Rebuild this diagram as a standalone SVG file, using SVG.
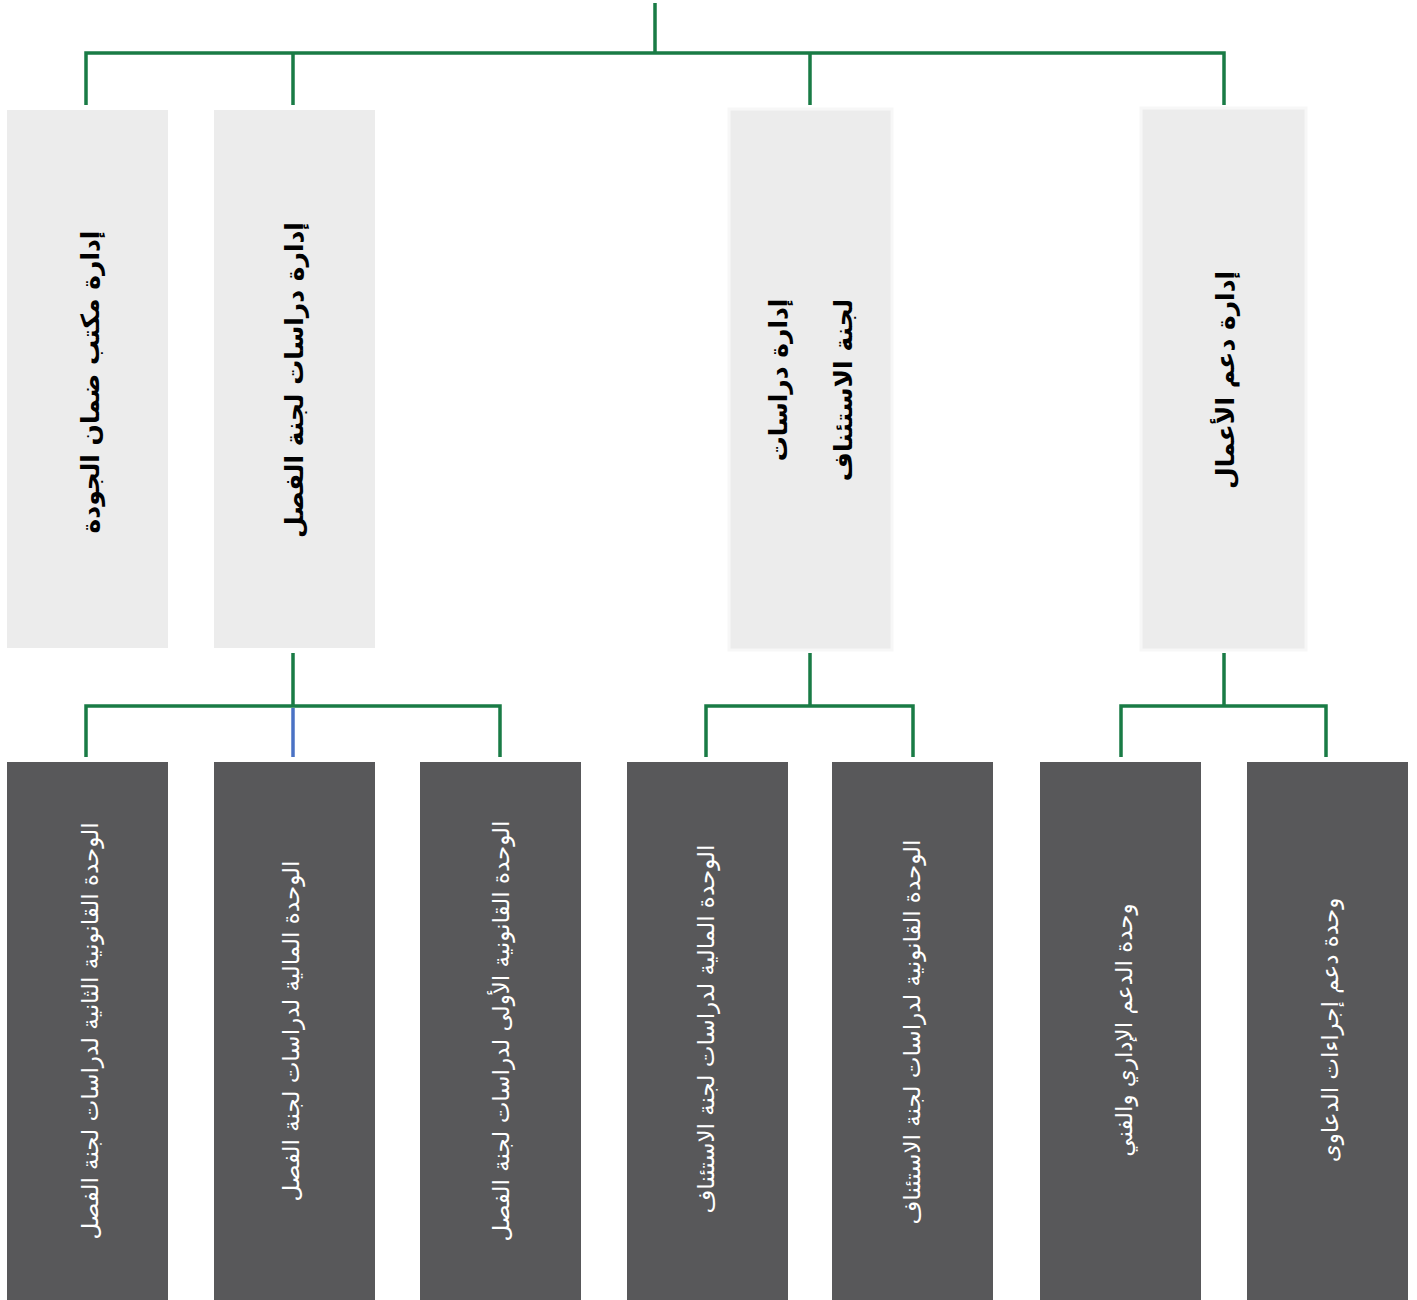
<svg xmlns="http://www.w3.org/2000/svg" width="1417" height="1300" viewBox="0 0 1417 1300">
<style>
.top{fill:#ececec}
.topb{fill:#ececec;stroke:#f7f7f7;stroke-width:3}
.bot{fill:#58585a}
.tt{font-family:"DejaVu Sans",sans-serif;font-weight:bold;font-size:25px;fill:#000;text-anchor:middle;dominant-baseline:central}
.bt{font-family:"DejaVu Sans",sans-serif;font-size:23px;fill:#fff;text-anchor:middle;dominant-baseline:central}
.ln{stroke:#197b45;stroke-width:3.5;fill:none}
.bl{stroke:#4a72c4;stroke-width:3.5;fill:none}
</style>
<rect width="1417" height="1300" fill="#fff"/>
<g id="connectors">
<path class="ln" d="M655 3V53M86 105V53H1224V105M293 53V105M810 53V105"/>
<path class="ln" d="M293 653V706M86 757V706H500V757"/>
<path class="bl" d="M293 708V757"/>
<path class="ln" d="M810 653V706M706 757V706H913V757"/>
<path class="ln" d="M1224 653V706M1121 757V706H1326V757"/>
</g>
<g id="n1"><rect class="top" x="7" y="110" width="161" height="538"/><text class="tt" direction="rtl" transform="translate(90,382) rotate(-90)">إدارة مكتب ضمان الجودة</text></g>
<g id="n2"><rect class="top" x="214" y="110" width="161" height="538"/><text class="tt" direction="rtl" transform="translate(294,380) rotate(-90)">إدارة دراسات لجنة الفصل</text></g>
<g id="n3"><rect class="topb" x="729" y="109" width="163" height="541"/><text class="tt" direction="rtl" transform="translate(778,380) rotate(-90)">إدارة دراسات</text><text class="tt" direction="rtl" transform="translate(843,390) rotate(-90)">لجنة الاستئناف</text></g>
<g id="n4"><rect class="topb" x="1141" y="108" width="165" height="542"/><text class="tt" direction="rtl" transform="translate(1225,380) rotate(-90)">إدارة دعم الأعمال</text></g>
<g id="b1"><rect class="bot" x="7" y="762" width="161" height="538"/><text class="bt" direction="rtl" transform="translate(90,1031) rotate(-90)">الوحدة القانونية الثانية لدراسات لجنة الفصل</text></g>
<g id="b2"><rect class="bot" x="214" y="762" width="161" height="538"/><text class="bt" direction="rtl" transform="translate(291,1031) rotate(-90)">الوحدة المالية لدراسات لجنة الفصل</text></g>
<g id="b3"><rect class="bot" x="420" y="762" width="161" height="538"/><text class="bt" direction="rtl" transform="translate(501,1031) rotate(-90)">الوحدة القانونية الأولى لدراسات لجنة الفصل</text></g>
<g id="b4"><rect class="bot" x="627" y="762" width="161" height="538"/><text class="bt" direction="rtl" transform="translate(706,1029) rotate(-90)">الوحدة المالية لدراسات لجنة الاستئناف</text></g>
<g id="b5"><rect class="bot" x="832" y="762" width="161" height="538"/><text class="bt" direction="rtl" transform="translate(912,1032) rotate(-90)">الوحدة القانونية لدراسات لجنة الاستئناف</text></g>
<g id="b6"><rect class="bot" x="1040" y="762" width="161" height="538"/><text class="bt" direction="rtl" transform="translate(1124,1030) rotate(-90)">وحدة الدعم الإداري والفني</text></g>
<g id="b7"><rect class="bot" x="1247" y="762" width="161" height="538"/><text class="bt" direction="rtl" transform="translate(1330,1030) rotate(-90)">وحدة دعم إجراءات الدعاوى</text></g>
</svg>
